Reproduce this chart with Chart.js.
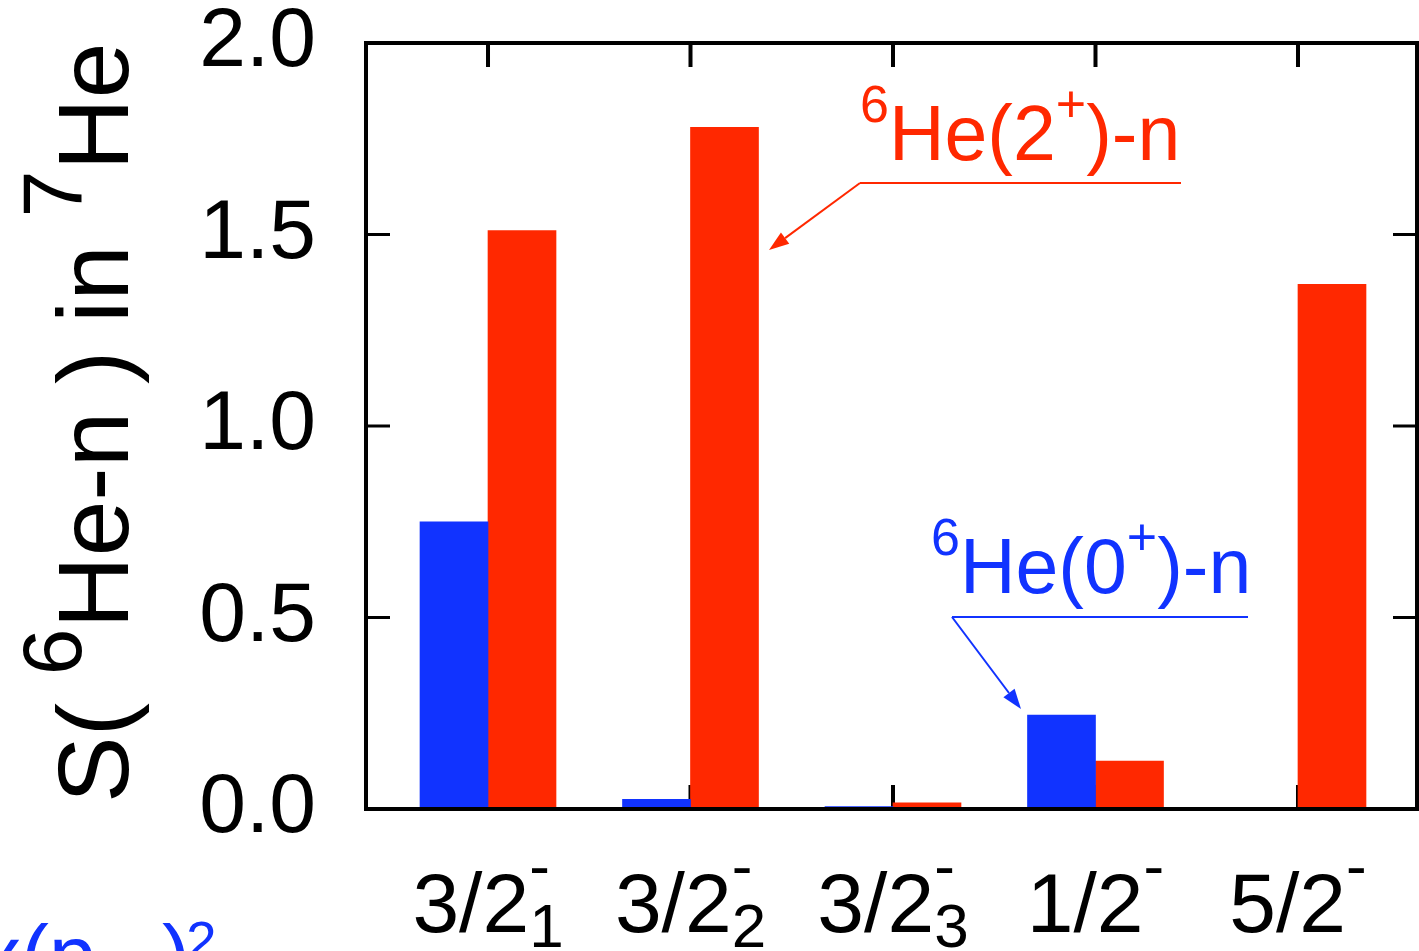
<!DOCTYPE html>
<html>
<head>
<meta charset="utf-8">
<script src="https://cdn.jsdelivr.net/npm/chart.js@4.4.1/dist/chart.umd.min.js"></script>
<style>
  html, body { margin: 0; padding: 0; background: #fff; }
  #wrap { width: 1419px; height: 951px; }
</style>
</head>
<body>
<div id="wrap"><canvas id="chart"></canvas></div>
<script>
// states of 7He, J^pi with index
const stateMain = ['3/2', '3/2', '3/2', '1/2', '5/2'];
const stateSup = ['-', '-', '-', '-', '-'];
const stateSub = ['1', '2', '3', '', ''];
// spectroscopic factors
const s6He0 = [0.75, 0.025, 0.006, 0.245, 0];   // 6He(0+)-n
const s6He2 = [1.51, 1.78, 0.016, 0.125, 1.37]; // 6He(2+)-n
const yMin = 0, yMax = 2.0, yStep = 0.5;

const BLUE = '#1133ff';
const RED = '#ff2800';
const FONT = '"Liberation Sans", Arial, Helvetica, sans-serif';

// draws a run of [text, size, rise] pieces, returns end x
function drawRun(ctx, parts, x, y) {
    parts.forEach(([t, size, rise]) => {
        ctx.font = size + 'px ' + FONT;
        ctx.fillText(t, x, y - rise);
        x += ctx.measureText(t).width;
    });
    return x;
}

function arrow(ctx, x0, y0, x1, y1, color) {
    ctx.strokeStyle = color;
    ctx.fillStyle = color;
    ctx.lineWidth = 2;
    const a = Math.atan2(y1 - y0, x1 - x0);
    const len = 20, half = 7;
    const bx = x1 - len * Math.cos(a), by = y1 - len * Math.sin(a);
    ctx.beginPath();
    ctx.moveTo(x0, y0);
    ctx.lineTo(bx, by);
    ctx.stroke();
    ctx.beginPath();
    ctx.moveTo(x1, y1);
    ctx.lineTo(bx + half * Math.sin(a), by - half * Math.cos(a));
    ctx.lineTo(bx - half * Math.sin(a), by + half * Math.cos(a));
    ctx.closePath();
    ctx.fill();
}

const framePlugin = {
    id: 'frame',
    beforeDatasetsDraw(chart) {
        const {ctx, chartArea: a, scales: {x, y}} = chart;
        ctx.save();
        ctx.strokeStyle = '#000';
        ctx.lineWidth = 4;
        ctx.beginPath();
        stateMain.forEach((_, i) => {
            const px = x.getPixelForValue(i);
            ctx.moveTo(px, a.top); ctx.lineTo(px, a.top + 24);
            ctx.moveTo(px, a.bottom); ctx.lineTo(px, a.bottom - 24);
        });
        ctx.stroke();
        ctx.lineWidth = 3;
        ctx.beginPath();
        for (let v = yMin + yStep; v < yMax; v += yStep) {
            const py = y.getPixelForValue(v);
            ctx.moveTo(a.left, py); ctx.lineTo(a.left + 24, py);
            ctx.moveTo(a.right, py); ctx.lineTo(a.right - 24, py);
        }
        ctx.stroke();
        ctx.restore();
    },
    afterDatasetsDraw(chart) {
        const {ctx, chartArea: a} = chart;
        ctx.save();
        ctx.strokeStyle = '#000';
        ctx.lineWidth = 4;
        ctx.strokeRect(a.left, a.top, a.right - a.left, a.bottom - a.top);
        ctx.restore();
    },
    afterDraw(chart) {
        const {ctx, scales: {x, y}} = chart;
        ctx.save();
        ctx.textBaseline = 'alphabetic';
        ctx.textAlign = 'left';

        // x labels: J with superscript parity and subscript index
        ctx.fillStyle = '#000';
        stateMain.forEach((m, i) => {
            ctx.font = '84px ' + FONT;
            const wm = ctx.measureText(m).width;
            ctx.font = '62px ' + FONT;
            const ws = Math.max(ctx.measureText(stateSup[i]).width, ctx.measureText(stateSub[i]).width);
            const x0 = x.getPixelForValue(i) - (wm + ws) / 2;
            ctx.font = '84px ' + FONT;
            ctx.fillText(m, x0, 932);
            ctx.font = '62px ' + FONT;
            ctx.fillText(stateSup[i], x0 + wm, 887);
            ctx.fillText(stateSub[i], x0 + wm, 947);
        });

        // y title, rotated
        ctx.save();
        ctx.translate(128, 803);
        ctx.rotate(-Math.PI / 2);
        drawRun(ctx, [
            ['S( ', 100, 0], ['6', 84, 47], ['He-n ) in ', 100, 0],
            ['7', 84, 47], ['He', 100, 0]
        ], 0, 0);
        ctx.restore();

        // 6He(2+)-n annotation
        ctx.fillStyle = RED;
        drawRun(ctx, [['6', 52, 38], ['He(2', 77, 0], ['+', 52, 38], [')-n', 77, 0]], 860, 160);
        ctx.strokeStyle = RED;
        ctx.lineWidth = 2;
        ctx.beginPath();
        ctx.moveTo(860, 183); ctx.lineTo(1181, 183);
        ctx.stroke();
        arrow(ctx, 860, 183, 769, 250, RED);

        // 6He(0+)-n annotation
        ctx.fillStyle = BLUE;
        drawRun(ctx, [['6', 52, 38], ['He(0', 77, 0], ['+', 52, 38], [')-n', 77, 0]], 931, 593);
        ctx.strokeStyle = BLUE;
        ctx.lineWidth = 2;
        ctx.beginPath();
        ctx.moveTo(952, 617); ctx.lineTo(1248, 617);
        ctx.stroke();
        arrow(ctx, 952, 617, 1021, 709, BLUE);

        // partly visible text at bottom left
        ctx.fillStyle = BLUE;
        ctx.font = '84px ' + FONT;
        ctx.fillText('x(p', -21, 984);
        ctx.font = '55px ' + FONT;
        ctx.fillText('3/2', 90, 1000);
        ctx.font = '84px ' + FONT;
        ctx.fillText(')', 162, 984);
        ctx.font = '55px ' + FONT;
        ctx.fillText('2', 186, 960);
        ctx.restore();
    }
};

new Chart(document.getElementById('chart'), {
    type: 'bar',
    data: {
        datasets: [{
            label: '6He(0+)-n',
            data: s6He0.map((v, i) => ({x: i, y: v})),
            backgroundColor: BLUE,
            borderWidth: 0,
            barThickness: 68
        }, {
            label: '6He(2+)-n',
            data: s6He2.map((v, i) => ({x: i, y: v})),
            backgroundColor: RED,
            borderWidth: 0,
            barThickness: 68
        }]
    },
    options: {
        responsive: true,
        maintainAspectRatio: false,
        animation: false,
        layout: {padding: {top: 43, right: 2, left: 0, bottom: 0}},
        plugins: {legend: {display: false}, tooltip: {enabled: false}},
        scales: {
            x: {
                type: 'linear',
                offset: false,
                min: -0.6025,
                max: 4.5877,
                grid: {display: false, drawTicks: false, offset: false},
                border: {display: false},
                ticks: {display: false},
                afterFit: s => { s.height = 142; s.paddingLeft = 0; s.paddingRight = 0; }
            },
            y: {
                min: yMin,
                max: yMax,
                grid: {display: false, drawTicks: false},
                border: {display: false},
                ticks: {
                    stepSize: yStep,
                    padding: 50,
                    color: '#000',
                    font: {family: FONT, size: 84},
                    callback: v => v.toFixed(1)
                },
                afterFit: s => { s.width = 366; s.paddingTop = 0; s.paddingBottom = 0; }
            }
        }
    },
    plugins: [framePlugin]
});
</script>
</body>
</html>
